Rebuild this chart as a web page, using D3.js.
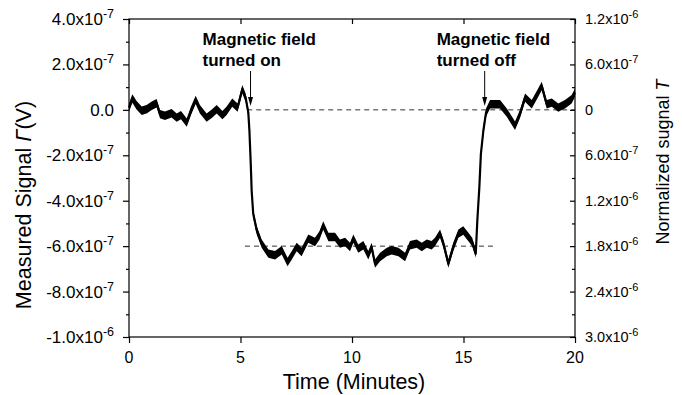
<!DOCTYPE html>
<html><head><meta charset="utf-8">
<script src="https://cdnjs.cloudflare.com/ajax/libs/d3/7.8.5/d3.min.js"></script>
<style>
body{margin:0;background:#fff;}
svg text{font-family:"Liberation Sans",Arial,sans-serif;fill:#000;}
</style></head>
<body><svg id="c" width="682" height="395"></svg>
<script>
// time in minutes
const times = [0,0.15,0.34,0.57,0.79,1.02,1.24,1.39,1.61,1.91,2.14,2.33,2.59,2.78,2.99,3.18,3.48,3.74,3.93,4.19,4.38,4.63,4.87,5.08,5.23,5.35,
 5.40,5.46,5.50,5.57,5.73,5.95,6.25,6.55,6.85,7.11,7.30,7.52,7.74,8.04,8.34,8.54,8.71,8.94,9.24,9.46,9.69,9.91,10.06,10.28,10.51,10.73,10.88,11.03,11.26,11.56,
 11.78,12.08,12.38,12.60,12.90,13.13,13.35,13.57,13.72,13.95,14.10,14.32,14.54,14.77,14.99,15.22,15.39,15.55,
 15.62,15.71,15.78,15.89,16.01,16.19,16.41,16.64,16.94,17.31,17.53,17.76,18.06,18.31,18.51,18.73,18.96,19.25,19.55,19.85,20];
// measured signal in units of 1e-7 V
const signal = [0.1,0.5,0.2,-0.04,0.03,0.18,0.29,-0.19,-0.26,-0.15,-0.34,-0.23,-0.56,-0.04,0.44,0.03,-0.34,-0.15,0.03,-0.23,-0.04,0.32,0.1,0.91,0.54,-0.12,
 -0.92,-2.38,-3.55,-4.57,-5.31,-5.89,-6.33,-6.4,-6.18,-6.7,-6.4,-6.04,-6.26,-5.67,-5.82,-5.53,-5.09,-5.6,-5.6,-5.89,-5.82,-6.04,-5.67,-6.11,-5.96,-6.4,-6.04,-6.77,-6.48,-6.26,
 -6.18,-6.26,-6.48,-5.96,-5.89,-6.04,-5.89,-5.96,-5.82,-5.45,-5.89,-6.77,-6.04,-5.45,-5.31,-5.6,-5.82,-6.33,
 -4.87,-3.41,-1.94,-0.92,-0.12,0.25,0.25,0.25,-0.12,-0.7,-0.19,0.54,0.25,0.69,1.05,0.25,0.32,0.1,0.25,0.47,0.76];
const xTicks = [0,5,10,15,20];
const leftTicks = [4,2,0,-2,-4,-6,-8,-10];           // x1e-7
const leftLabels = [["4.0","-7"],["2.0","-7"],["0.0",""],["-2.0","-7"],["-4.0","-7"],["-6.0","-7"],["-8.0","-7"],["-1.0","-6"]];
const rightTicks = [-12,-6,0,6,12,18,24,30];        // x1e-7
const rightLabels = [["1.2","-6"],["6.0","-7"],["0",""],["6.0","-7"],["1.2","-6"],["1.8","-6"],["2.4","-6"],["3.0","-6"]];
const refLines = [{v:0,t0:5.3,t1:20},{v:-6,t0:5.2,t1:16.4}];
const notes = [{lines:["Magnetic field","turned on"],t:5.45},{lines:["Magnetic field","turned off"],t:15.95}];

const L=129,R=575,T=19,B=337;
const svg=d3.select("#c");
const x=d3.scaleLinear().domain([0,20]).range([L,R]);
const y=d3.scaleLinear().domain([-10,4]).range([B,T]);
const yR=d3.scaleLinear().domain([30,-12]).range([B,T]);

// reference dashed lines
svg.selectAll(".ref").data(refLines).enter().append("line")
 .attr("x1",d=>x(d.t0)).attr("x2",d=>x(d.t1)).attr("y1",d=>y(d.v)).attr("y2",d=>y(d.v))
 .attr("stroke","#333").attr("stroke-width",1).attr("stroke-dasharray","5,4");

// data trace: noise band (vertical half-width in px) + core line
const band=d3.area().x((d,i)=>x(times[i])).y0(d=>y(d)-4.2).y1(d=>y(d)+4.2);
svg.append("path").datum(signal).attr("d",band).attr("fill","#000");
const line=d3.line().x((d,i)=>x(times[i])).y(d=>y(d));
svg.append("path").datum(signal).attr("d",line).attr("fill","none")
 .attr("stroke","#000").attr("stroke-width",2.2).attr("stroke-linejoin","round");

// frame
svg.append("rect").attr("x",L).attr("y",T).attr("width",R-L).attr("height",B-T)
 .attr("fill","none").attr("stroke","#000").attr("stroke-width",1.2);

function supLabel(g,parts,fs,ss){
  const t=g.append("text").style("font-size",fs+"px");
  t.append("tspan").text(parts[1]?parts[0]+"x10":parts[0]);
  if(parts[1]) t.append("tspan").attr("dy",-Math.round(fs*0.4)).style("font-size",ss+"px").text(parts[1]);
  return t;
}
// bottom axis
const gb=svg.append("g").attr("transform",`translate(0,${B})`);
gb.call(d3.axisBottom(x).tickValues(xTicks).tickSize(6).tickFormat(""));
gb.select(".domain").remove();
gb.selectAll(".tick line").attr("stroke","#000").attr("stroke-width",1.2);
xTicks.forEach(v=>{svg.append("text").attr("x",x(v)).attr("y",363).attr("text-anchor","middle").style("font-size","16px").text(v);});
// top axis inner ticks
const gt=svg.append("g").attr("transform",`translate(0,${T})`);
gt.call(d3.axisBottom(x).tickValues(xTicks).tickSize(5).tickFormat(""));
gt.select(".domain").remove();
gt.selectAll(".tick line").attr("stroke","#000").attr("stroke-width",1.2);

// left axis
const gl=svg.append("g").attr("transform",`translate(${L},0)`);
gl.call(d3.axisLeft(y).tickValues(d3.range(-10,4.1,1)).tickSize(3).tickFormat(""));
gl.select(".domain").remove();
gl.selectAll(".tick line").attr("stroke","#000").attr("stroke-width",1.2)
 .attr("x2",d=>(Math.round(d)%2===0)?-6:-3);
leftTicks.forEach((v,i)=>{
  const t=supLabel(svg,leftLabels[i],17,12.5);
  t.attr("x",L-15).attr("y",y(v)+6).attr("text-anchor","end");
});
// right axis (inner ticks)
const gr=svg.append("g").attr("transform",`translate(${R},0)`);
gr.call(d3.axisLeft(yR).tickValues(d3.range(-12,30.1,3)).tickSize(3).tickFormat(""));
gr.select(".domain").remove();
gr.selectAll(".tick line").attr("stroke","#000").attr("stroke-width",1.2)
 .attr("x2",d=>(Math.round(d)%6===0)?-5:-3);
rightTicks.forEach((v,i)=>{
  const t=supLabel(svg,rightLabels[i],14.5,11);
  t.attr("x",R+10).attr("y",yR(v)+5).attr("text-anchor","start");
});

// axis titles
svg.append("text").attr("x",(L+R)/2+2).attr("y",389).attr("text-anchor","middle").style("font-size","21.5px").text("Time (Minutes)");
const lt=svg.append("text").attr("transform",`translate(31,205) rotate(-90)`).attr("text-anchor","middle").style("font-size","21.5px");
lt.append("tspan").text("Measured Signal ");
lt.append("tspan").style("font-style","italic").text("Γ");
lt.append("tspan").text("(V)");
const rt=svg.append("text").attr("transform",`translate(669,162) rotate(-90)`).attr("text-anchor","middle").style("font-size","18px");
rt.append("tspan").text("Normalized sugnal ");
rt.append("tspan").style("font-style","italic").text("T");

// annotations
notes.forEach(n=>{
  const tx=x(n.t)-48;
  const tt=svg.append("text").attr("x",tx).attr("y",45).style("font-size","17px").style("font-weight","bold");
  tt.append("tspan").attr("x",tx).attr("dy",0).text(n.lines[0]);
  tt.append("tspan").attr("x",tx).attr("dy",21).text(n.lines[1]);
  const ax=x(n.t);
  svg.append("line").attr("x1",ax).attr("x2",ax).attr("y1",71).attr("y2",100).attr("stroke","#000").attr("stroke-width",1);
  svg.append("path").attr("d",`M${ax-2.5},97 L${ax+2.5},97 L${ax},106 Z`).attr("fill","#000");
});
</script></body></html>
